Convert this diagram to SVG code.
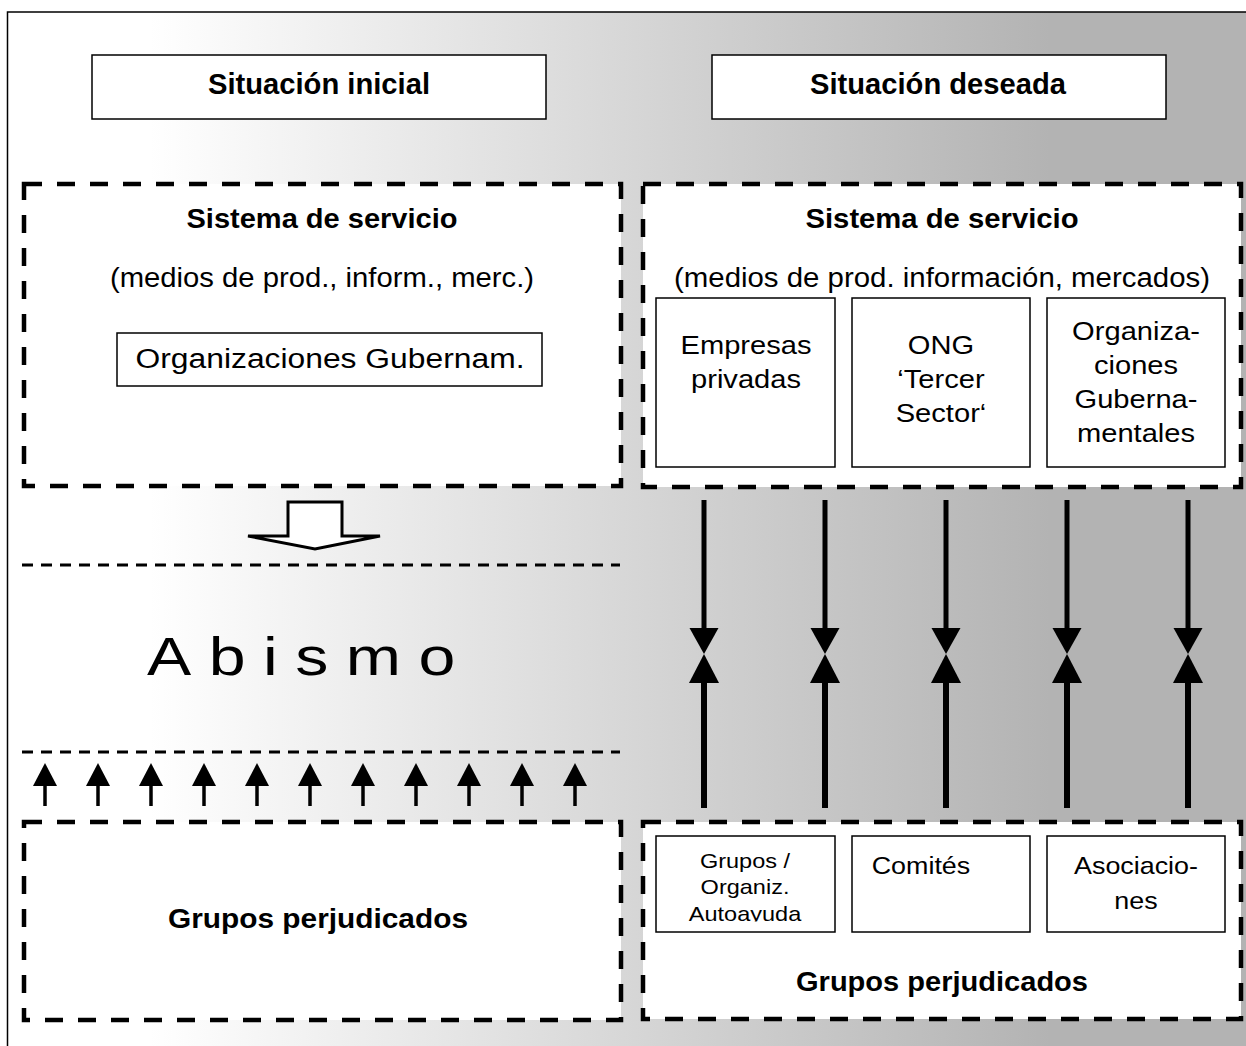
<svg xmlns="http://www.w3.org/2000/svg" width="1246" height="1046" viewBox="0 0 1246 1046">
<defs>
<linearGradient id="bg" gradientUnits="userSpaceOnUse" x1="150" y1="0" x2="1050" y2="0">
<stop offset="0" stop-color="#ffffff"/>
<stop offset="1" stop-color="#b3b3b3"/>
</linearGradient>
<marker id="headDown" markerWidth="30" markerHeight="28" refX="15" refY="0" orient="0" markerUnits="userSpaceOnUse" overflow="visible">
<path d="M0.5,0 L29.5,0 L15,26 Z" fill="#000"/>
</marker>
<marker id="headUp" markerWidth="30" markerHeight="30" refX="15" refY="29" orient="0" markerUnits="userSpaceOnUse" overflow="visible">
<path d="M15,0 L30,29 L0,29 Z" fill="#000"/>
</marker>
<marker id="smallUp" markerWidth="26" markerHeight="24" refX="13" refY="23" orient="0" markerUnits="userSpaceOnUse" overflow="visible">
<path d="M13,0 L25,23 L1,23 Z" fill="#000"/>
</marker>
<clipPath id="clipAuto"><rect x="656" y="836" width="179" height="85.5"/></clipPath>
</defs>
<style>
.t{font-family:"Liberation Sans",Arial,Helvetica,sans-serif;fill:#000;text-anchor:middle}
.b{font-weight:bold}
.title{fill:#fff;stroke:#000;stroke-width:1.5}
.dash{fill:#fff;stroke:#000;stroke-width:4.5;stroke-dasharray:18 15}
.box{fill:#fff;stroke:#000;stroke-width:1.5}
.thin{stroke:#000;stroke-width:3;stroke-dasharray:11 8;fill:none}
</style>
<rect x="0" y="0" width="1246" height="1046" fill="#fff"/>
<rect x="7.5" y="12" width="1260" height="1060" fill="url(#bg)" stroke="#000" stroke-width="1.5"/>

<g id="title-inicial">
<rect class="title" x="92" y="55" width="454" height="64"/>
<text class="t b" x="319" y="94" font-size="29" textLength="222" lengthAdjust="spacingAndGlyphs">Situación inicial</text>
</g>
<g id="title-deseada">
<rect class="title" x="712" y="55" width="454" height="64"/>
<text class="t b" x="938" y="94" font-size="29" textLength="256" lengthAdjust="spacingAndGlyphs">Situación deseada</text>
</g>

<g id="sistema-inicial">
<rect class="dash" x="24" y="184" width="597" height="302"/>
<text class="t b" x="322" y="228" font-size="27" textLength="271" lengthAdjust="spacingAndGlyphs">Sistema de servicio</text>
<text class="t" x="322" y="287" font-size="27" textLength="424" lengthAdjust="spacingAndGlyphs">(medios de prod., inform., merc.)</text>
<rect class="box" x="117" y="333" width="425" height="53"/>
<text class="t" x="330" y="368" font-size="27" textLength="389" lengthAdjust="spacingAndGlyphs">Organizaciones Gubernam.</text>
</g>

<g id="sistema-deseado">
<rect class="dash" x="643" y="184" width="598" height="303"/>
<text class="t b" x="942" y="228" font-size="27" textLength="273" lengthAdjust="spacingAndGlyphs">Sistema de servicio</text>
<text class="t" x="942" y="287" font-size="27" textLength="536" lengthAdjust="spacingAndGlyphs">(medios de prod. información, mercados)</text>
</g>
<g id="empresas">
<rect class="box" x="656" y="298" width="179" height="169"/>
<g transform="scale(1.12,1)">
<text class="t" x="666.1" y="354" font-size="26">Empresas</text>
<text class="t" x="666.1" y="388" font-size="26">privadas</text>
</g>
</g>
<g id="ong">
<rect class="box" x="852" y="298" width="178" height="169"/>
<g transform="scale(1.12,1)">
<text class="t" x="840.2" y="354" font-size="26">ONG</text>
<text class="t" x="840.2" y="388" font-size="26">‘Tercer</text>
<text class="t" x="840.2" y="422" font-size="26">Sector‘</text>
</g>
</g>
<g id="org-gubernamentales">
<rect class="box" x="1047" y="298" width="178" height="169"/>
<g transform="scale(1.12,1)">
<text class="t" x="1014.3" y="340" font-size="26">Organiza-</text>
<text class="t" x="1014.3" y="374" font-size="26">ciones</text>
<text class="t" x="1014.3" y="408" font-size="26">Guberna-</text>
<text class="t" x="1014.3" y="442" font-size="26">mentales</text>
</g>
</g>

<g id="abismo">
<path d="M22,565 H620" class="thin"/>
<path d="M22,752 H620" class="thin"/>
<text transform="translate(147,675) scale(1.25,1)" x="0" y="0" font-family="Liberation Sans,Arial,sans-serif" font-size="53" letter-spacing="14">Abismo</text>
</g>

<g id="hollow-arrow">
<path d="M288,502 H342 V536 H380 L315,549 L248,536 H288 Z" fill="#fff" stroke="#000" stroke-width="3" stroke-linejoin="miter"/>
</g>

<g id="grupos-inicial">
<rect class="dash" x="24" y="822" width="597" height="198"/>
<text class="t b" x="318" y="928" font-size="27" textLength="300" lengthAdjust="spacingAndGlyphs">Grupos perjudicados</text>
</g>

<g id="grupos-deseado">
<rect class="dash" x="643" y="822" width="598" height="197"/>
<text class="t b" x="942" y="991" font-size="27" textLength="292" lengthAdjust="spacingAndGlyphs">Grupos perjudicados</text>
</g>
<g id="autoayuda">
<rect class="box" x="656" y="836" width="179" height="96"/>
<g clip-path="url(#clipAuto)">
<g transform="scale(1.12,1)">
<text class="t" x="665.2" y="868" font-size="21">Grupos /</text>
<text class="t" x="665.2" y="894" font-size="21">Organiz.</text>
<text class="t" x="665.2" y="921" font-size="21">Autoayuda</text>
</g>
</g>
</g>
<g id="comites">
<rect class="box" x="852" y="836" width="178" height="96"/>
<g transform="scale(1.12,1)">
<text class="t" x="822.3" y="874" font-size="24">Comités</text>
</g>
</g>
<g id="asociaciones">
<rect class="box" x="1047" y="836" width="178" height="96"/>
<g transform="scale(1.12,1)">
<text class="t" x="1014.3" y="874" font-size="24">Asociacio-</text>
<text class="t" x="1014.3" y="909" font-size="24">nes</text>
</g>
</g>

<g id="connectors" stroke="#000" fill="none">
<g stroke-width="5">
<path d="M704,500 V628" marker-end="url(#headDown)"/>
<path d="M825,500 V628" marker-end="url(#headDown)"/>
<path d="M946,500 V628" marker-end="url(#headDown)"/>
<path d="M1067,500 V628" marker-end="url(#headDown)"/>
<path d="M1188,500 V628" marker-end="url(#headDown)"/>
</g>
<g stroke-width="6">
<path d="M704,808 V683" marker-end="url(#headUp)"/>
<path d="M825,808 V683" marker-end="url(#headUp)"/>
<path d="M946,808 V683" marker-end="url(#headUp)"/>
<path d="M1067,808 V683" marker-end="url(#headUp)"/>
<path d="M1188,808 V683" marker-end="url(#headUp)"/>
</g>
<g stroke-width="3.5">
<path d="M45,806 V786" marker-end="url(#smallUp)"/>
<path d="M98,806 V786" marker-end="url(#smallUp)"/>
<path d="M151,806 V786" marker-end="url(#smallUp)"/>
<path d="M204,806 V786" marker-end="url(#smallUp)"/>
<path d="M257,806 V786" marker-end="url(#smallUp)"/>
<path d="M310,806 V786" marker-end="url(#smallUp)"/>
<path d="M363,806 V786" marker-end="url(#smallUp)"/>
<path d="M416,806 V786" marker-end="url(#smallUp)"/>
<path d="M469,806 V786" marker-end="url(#smallUp)"/>
<path d="M522,806 V786" marker-end="url(#smallUp)"/>
<path d="M575,806 V786" marker-end="url(#smallUp)"/>
</g>
</g>
</svg>
